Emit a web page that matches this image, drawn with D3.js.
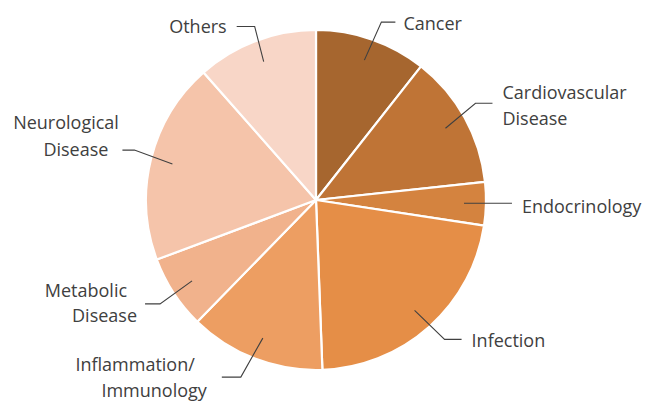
<!DOCTYPE html>
<meta charset="utf-8">
<script src="https://d3js.org/d3.v7.min.js"></script>
<style type="text/css">
body { margin: 0; background: #fff; }
.label { font-family: "Open Sans", sans-serif; font-size: 18px; fill: #404040; }
</style>
<body>
</body>
<script>

// data: share of each therapeutic area (%)
var categories = ["Cancer", "Cardiovascular Disease", "Endocrinology", "Infection",
  "Inflammation/ Immunology", "Metabolic Disease", "Neurological Disease", "Others"];
var values = [10.6, 12.7, 4.1, 22.0, 12.9, 7.0, 19.2, 11.5];
var colors = ["#a6662f", "#bf7436", "#d4833f", "#e58e47", "#ed9e62", "#f1b28c", "#f5c4aa", "#f8d6c7"];
// how each label is broken into lines
var labelLines = [["Cancer"], ["Cardiovascular", "Disease"], ["Endocrinology"], ["Infection"],
  ["Inflammation/", "Immunology"], ["Metabolic", "Disease"], ["Neurological", "Disease"], ["Others"]];

var width = 646;
var height = 403;
var cx = 316, cy = 200, radius = 170;

// leader line layout: elbow offset from the line start, horizontal run,
// and per line text offsets [dx from line end, baseline dy from elbow]
var leader = [
  {elbow: [17, -38], run: 14, text: [[8, 7.5]]},
  {elbow: [30, -25], run: 17, text: [[10, -4], [10, 22]]},
  {elbow: [0, 0], run: 48, text: [[10, 10]]},
  {elbow: [30, 29], run: 17, text: [[10, 8]]},
  {elbow: [-22, 39], run: 19, text: [[-27, -6], [-15, 20]]},
  {elbow: [-32, 23], run: 15, text: [[-18, -7], [-8, 18.5]]},
  {elbow: [-38, -14], run: 12, text: [[-3.5, -21], [-14, 5.5]]},
  {elbow: [-9, -35], run: 18, text: [[-10, 6.7]]}
];

var data = categories.map(function(c, i) {
  return {name: c, value: values[i], color: colors[i], lines: labelLines[i], layout: leader[i]};
});

var svg = d3.select("body").append("svg")
    .attr("width", width)
    .attr("height", height);

var g = svg.append("g")
    .attr("transform", "translate(" + cx + "," + cy + ")");

var pie = d3.pie()
    .sort(null)
    .value(function(d) { return d.value; });

var arc = d3.arc()
    .innerRadius(0)
    .outerRadius(radius);

// where the leader lines start inside each slice
var anchorArc = d3.arc()
    .innerRadius(148)
    .outerRadius(148);

var arcs = pie(data);

g.selectAll(".slice")
  .data(arcs)
  .enter().append("path")
    .attr("class", "slice")
    .attr("d", arc)
    .attr("fill", function(d) { return d.data.color; })
    .attr("stroke", "#fff")
    .attr("stroke-width", 2.2)
    .attr("stroke-linejoin", "round");

var labels = g.selectAll(".lbl")
  .data(arcs)
  .enter().append("g")
    .attr("class", "lbl");

labels.each(function(d) {
  var p0 = anchorArc.centroid(d);
  var lay = d.data.layout;
  var p1 = [p0[0] + lay.elbow[0], p0[1] + lay.elbow[1]];
  var right = (d.startAngle + d.endAngle) / 2 < Math.PI;
  var p2 = [p1[0] + (right ? lay.run : -lay.run), p1[1]];
  var sel = d3.select(this);

  sel.append("polyline")
    .attr("points", [p0, p1, p2].map(function(p) { return p.join(","); }).join(" "))
    .attr("fill", "none")
    .attr("stroke", "#404040")
    .attr("stroke-width", 1.1);

  var text = sel.append("text")
    .attr("class", "label")
    .attr("text-anchor", right ? "start" : "end");

  d.data.lines.forEach(function(line, i) {
    text.append("tspan")
      .attr("x", p2[0] + lay.text[i][0])
      .attr("y", p1[1] + lay.text[i][1])
      .text(line);
  });
});

</script>
